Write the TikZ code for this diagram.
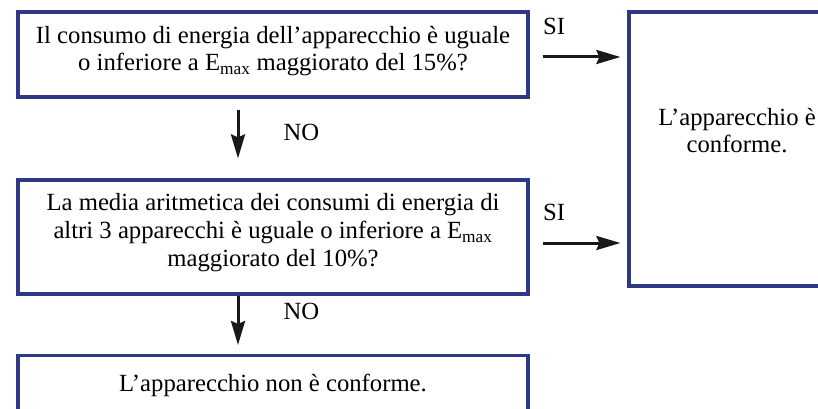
\documentclass[tikz,border=0pt]{standalone}
\usepackage{fontspec}
\setmainfont{Liberation Serif}
\usepackage{tikz}
\usetikzlibrary{arrows.meta}
\definecolor{boxblue}{RGB}{46,56,132}
\tikzset{>={Stealth[width=14pt,length=24pt,inset=3pt]}}
\tikzset{
  box/.style={draw=boxblue, line width=3.2pt, align=center, minimum width=510pt},
  flow/.style={->, line width=3pt, draw=black!90},
  answer/.style={inner sep=0pt, anchor=base west},
}

\begin{document}
\begin{tikzpicture}[x=1pt,y=1pt]
  \fontsize{24.7}{27.8}\selectfont
  \useasboundingbox (0,0) rectangle (818,-409);
  \clip (0,0) rectangle (818,-409);

  % questions
  \node[box, minimum height=85pt, text depth=12pt] (q1) at (273,-54.5)
    {Il consumo di energia dell’apparecchio è uguale\\o inferiore a E\textsubscript{max} maggiorato del 15\%?};
  \node[box, minimum height=114pt, text depth=14pt] (q2) at (273,-237)
    {La media aritmetica dei consumi di energia di\\altri 3 apparecchi è uguale o inferiore a E\textsubscript{max}\\maggiorato del 10\%?};

  % results
  \node[box, anchor=north, inner ysep=19pt, text depth=40pt] (no) at (273,-354)
    {L’apparecchio non è conforme.};
  \node[box, minimum width=216pt, minimum height=274pt, text depth=37pt] (yes) at (737,-149)
    {L’apparecchio è\\conforme.};

  % NO branches
  \draw[flow, shorten <=11pt, shorten >=20pt] ([xshift=-35pt]q1.south) --
    node[answer, pos=0, xshift=44pt, yshift=-42pt]{NO} ([xshift=-35pt]q2.north);
  \draw[flow, shorten >=9pt] ([xshift=-35pt]q2.south) --
    node[answer, pos=0, xshift=44pt, yshift=-24pt]{NO} ([xshift=-35pt]no.north);

  % SI branches
  \draw[flow, shorten <=13pt, shorten >=7pt] ([yshift=-2.5pt]q1.east) --
    node[answer, pos=0, xshift=12pt, yshift=22pt]{SI} ([yshift=-2.5pt]q1.east -| yes.west);
  \draw[flow, shorten <=13pt, shorten >=7pt] ([yshift=-6pt]q2.east) --
    node[answer, pos=0, xshift=12pt, yshift=23pt]{SI} ([yshift=-6pt]q2.east -| yes.west);
\end{tikzpicture}
\end{document}
